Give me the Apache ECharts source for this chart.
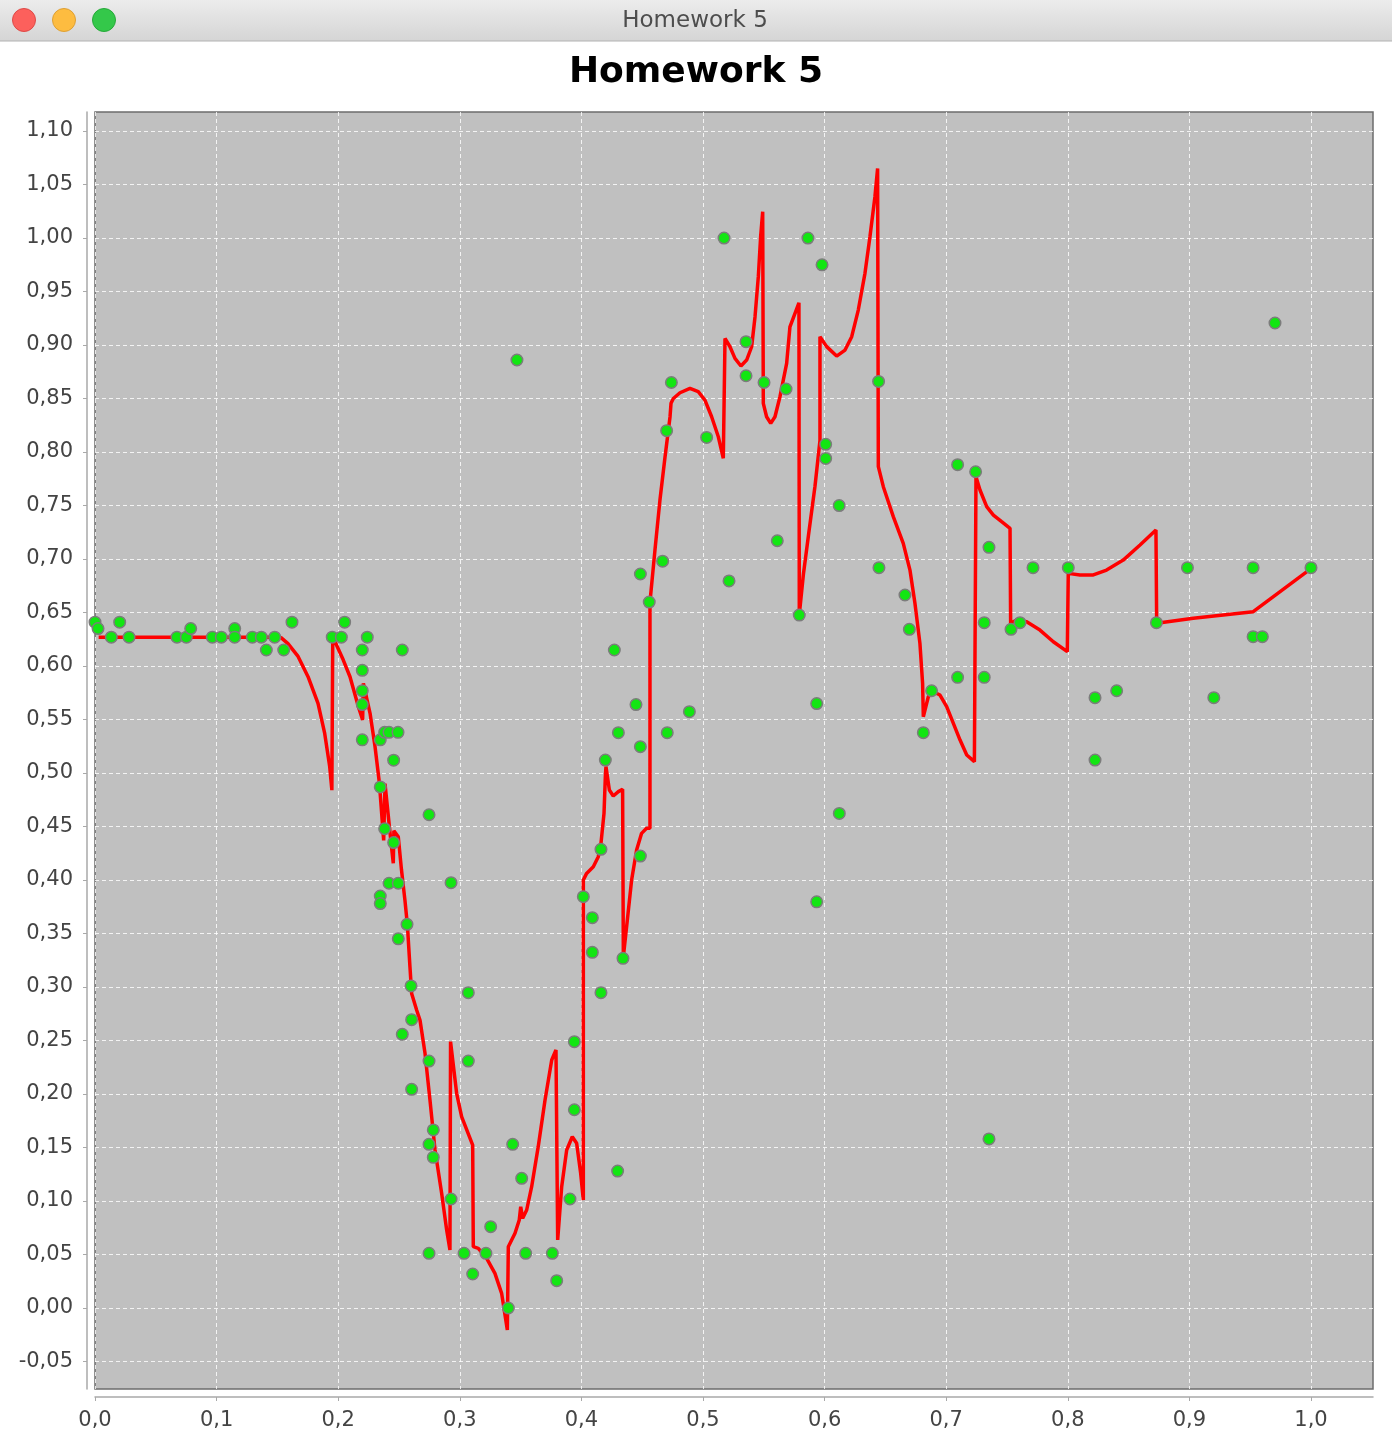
<!DOCTYPE html>
<html><head><meta charset="utf-8">
<script src="https://cdn.jsdelivr.net/npm/echarts@6/dist/echarts.min.js"></script>
<style>html,body{margin:0;padding:0;background:#fff}#c{width:1392px;height:1436px}</style>
</head><body><div id="c"></div>
<script>
const windowTitle = 'Homework 5';
const chartTitle = 'Homework 5';
const xTicks = [0, 0.1, 0.2, 0.3, 0.4, 0.5, 0.6, 0.7, 0.8, 0.9, 1.0];
const yTicks = [-0.05, 0, 0.05, 0.1, 0.15, 0.2, 0.25, 0.3, 0.35, 0.4, 0.45, 0.5, 0.55, 0.6, 0.65, 0.7, 0.75, 0.8, 0.85, 0.9, 0.95, 1.0, 1.05, 1.1];

const pointsX = [0.000,0.0025,0.0134,0.0203,0.028,0.0674,0.0751,0.0787,0.0965,0.1039,0.1149,0.1149,0.1294,0.1368,0.1409,0.1478,0.1552,0.162,0.1951,0.2026,0.2053,0.2198,0.2239,0.2198,0.2198,0.2198,0.2198,0.2527,0.2346,0.2382,0.2418,0.2492,0.2456,0.2346,0.2747,0.2382,0.2456,0.2418,0.2494,0.2346,0.2346,0.2566,0.2494,0.2599,0.2604,0.2928,0.2527,0.2747,0.307,0.2604,0.2782,0.2747,0.2782,0.2928,0.2747,0.3035,0.3215,0.3106,0.3254,0.3399,0.3435,0.3509,0.3542,0.3761,0.3797,0.3906,0.3942,0.3942,0.4298,0.307,0.347,0.4271,0.4449,0.4888,0.4304,0.4706,0.4485,0.4197,0.4161,0.4485,0.4016,0.409,0.409,0.4342,0.4161,0.4558,0.5173,0.5354,0.5354,0.5502,0.5683,0.474,0.4701,0.503,0.5611,0.4668,0.4485,0.5214,0.5863,0.5979,0.6009,0.6009,0.5792,0.5935,0.5935,0.612,0.6121,0.6444,0.6447,0.6661,0.6697,0.6812,0.688,0.7094,0.7242,0.7352,0.7094,0.7313,0.7313,0.7533,0.7607,0.7714,0.8004,0.8224,0.8402,0.8224,0.8729,0.8984,0.9201,0.9524,0.9524,0.96,1.0,0.9704,0.7352];
const pointsY = [0.641,0.635,0.627,0.641,0.627,0.627,0.627,0.635,0.627,0.627,0.635,0.627,0.627,0.627,0.615,0.627,0.615,0.641,0.627,0.627,0.641,0.615,0.627,0.596,0.577,0.564,0.531,0.615,0.531,0.538,0.538,0.538,0.512,0.487,0.461,0.448,0.435,0.397,0.397,0.385,0.378,0.3586,0.345,0.301,0.2695,0.3975,0.2558,0.2308,0.2308,0.2044,0.1664,0.153,0.1408,0.1019,0.0511,0.0511,0.0511,0.0318,0.076,0.0,0.153,0.1212,0.0511,0.0511,0.0255,0.1019,0.1853,0.2489,0.128,0.2947,0.886,0.615,0.564,0.5573,0.5377,0.5377,0.5246,0.5121,0.4287,0.4224,0.3844,0.3648,0.3324,0.3268,0.2947,0.6598,1.0,0.9031,0.8713,0.865,0.8589,0.865,0.82,0.8137,0.7171,0.698,0.686,0.6795,1.0,0.975,0.8072,0.794,0.6476,0.5649,0.3796,0.75,0.4622,0.866,0.6919,0.6664,0.6343,0.5377,0.5769,0.7882,0.7816,0.7109,0.5894,0.5894,0.6405,0.6343,0.6405,0.6919,0.6919,0.5704,0.5769,0.5121,0.6405,0.6919,0.5704,0.6919,0.6274,0.6274,0.6919,0.9206,0.158];

const curveX = [0.003,0.148,0.153,0.1587,0.167,0.1752,0.1834,0.1889,0.193,0.1948,0.1955,0.1974,0.2042,0.2097,0.2166,0.2201,0.2207,0.2262,0.2303,0.2339,0.2374,0.2385,0.2430,0.2453,0.2458,0.2494,0.2520,0.2549,0.2569,0.259,0.2604,0.2645,0.2673,0.2714,0.2755,0.2796,0.2851,0.2892,0.2919,0.2924,0.2974,0.3015,0.3106,0.3111,0.3152,0.3221,0.3289,0.3344,0.3391,0.3399,0.3454,0.3489,0.3501,0.3517,0.355,0.3591,0.3645,0.3701,0.3756,0.3791,0.3805,0.3838,0.3879,0.3925,0.3961,0.3994,0.4016,0.4016,0.4043,0.4098,0.4139,0.4161,0.4186,0.4197,0.4202,0.423,0.4262,0.4304,0.4339,0.4345,0.4372,0.4413,0.4454,0.4495,0.4536,0.4564,0.4564,0.4605,0.4646,0.4688,0.4729,0.4737,0.4756,0.4811,0.4893,0.4961,0.5016,0.5071,0.5126,0.5167,0.5181,0.5222,0.5263,0.5312,0.5359,0.5400,0.5428,0.5455,0.5474,0.5491,0.5496,0.5523,0.5557,0.5592,0.5633,0.5688,0.5715,0.5789,0.5792,0.5826,0.5867,0.5921,0.5962,0.5962,0.6017,0.6099,0.6168,0.6223,0.6277,0.6332,0.6373,0.6414,0.6436,0.6442,0.6483,0.6565,0.6647,0.6702,0.6743,0.6784,0.6806,0.6812,0.6853,0.6894,0.6949,0.7004,0.7059,0.7114,0.7169,0.7232,0.7245,0.7278,0.7333,0.7388,0.7456,0.7525,0.753,0.7579,0.7662,0.7771,0.7881,0.7996,0.8004,0.81,0.821,0.8319,0.8456,0.8594,0.8725,0.8731,0.9032,0.9525,1.0];
const curveY = [0.627,0.627,0.6265,0.621,0.609,0.590,0.565,0.537,0.506,0.484,0.623,0.6227,0.6056,0.590,0.562,0.5496,0.5838,0.5558,0.5246,0.4904,0.437,0.490,0.440,0.4156,0.446,0.4405,0.410,0.381,0.358,0.319,0.294,0.2785,0.269,0.238,0.194,0.148,0.107,0.0729,0.0542,0.249,0.2007,0.1788,0.1523,0.0573,0.0558,0.0464,0.0324,0.0137,-0.0206,0.0573,0.0698,0.0822,0.0947,0.0838,0.0916,0.1134,0.1508,0.1944,0.2318,0.2411,0.0636,0.1134,0.1477,0.1601,0.1539,0.1259,0.1009,0.400,0.4062,0.4124,0.4218,0.4343,0.4623,0.4966,0.506,0.4841,0.4785,0.4826,0.4848,0.3283,0.3564,0.400,0.428,0.4436,0.4483,0.4483,0.6598,0.7084,0.7551,0.7956,0.833,0.8455,0.85,0.8554,0.8595,0.8564,0.8486,0.833,0.8143,0.7941,0.9062,0.8984,0.8875,0.8804,0.886,0.8984,0.9265,0.9639,1.0012,1.0246,0.8455,0.833,0.8268,0.833,0.8517,0.8829,0.917,0.9395,0.648,0.686,0.7217,0.768,0.8108,0.9078,0.8985,0.8897,0.8953,0.9078,0.9327,0.967,1.0012,1.0386,1.0651,0.7863,0.7676,0.7396,0.7147,0.6897,0.6586,0.6212,0.5838,0.5526,0.5713,0.576,0.5729,0.562,0.5464,0.5308,0.5168,0.5106,0.777,0.7645,0.7489,0.7411,0.7349,0.7287,0.6399,0.643,0.6414,0.6336,0.6227,0.6134,0.6866,0.6851,0.6851,0.6897,0.699,0.7131,0.7271,0.6399,0.6446,0.6508,0.691];

const chart = echarts.init(document.getElementById('c'), null, {renderer: 'canvas'});
const fmt = (d) => (v) => Number(v).toFixed(d).replace('.', ',');
const gridLine = {show: true, lineStyle: {color: 'rgba(255,255,255,0.8)', width: 1, type: [4, 3]}};
const axisCol = '#a9a9a9';
chart.setOption({
  animation: false,
  backgroundColor: '#ffffff',
  title: {text: chartTitle, left: 'center', top: 50, textStyle: {fontFamily: 'DejaVu Sans', fontWeight: 'bold', fontSize: 36, color: '#000'}},
  graphic: [
    {type: 'rect', shape: {x: 0, y: 0, width: 1392, height: 41}, style: {fill: new echarts.graphic.LinearGradient(0, 0, 0, 1, [{offset: 0, color: '#ececec'}, {offset: 1, color: '#d5d5d5'}])}, z: 10},
    {type: 'line', shape: {x1: 0, y1: 41, x2: 1392, y2: 41}, style: {stroke: '#b2b2b2', lineWidth: 1}, z: 10},
    {type: 'circle', shape: {cx: 24, cy: 20, r: 11.5}, style: {fill: '#fc605c', stroke: '#de4a47', lineWidth: 1}, z: 11},
    {type: 'circle', shape: {cx: 64, cy: 20, r: 11.5}, style: {fill: '#fdbc40', stroke: '#dea034', lineWidth: 1}, z: 11},
    {type: 'circle', shape: {cx: 104, cy: 20, r: 11.5}, style: {fill: '#34c84a', stroke: '#27a93a', lineWidth: 1}, z: 11},
    {type: 'text', x: 695, y: 21, style: {text: windowTitle, fontFamily: 'DejaVu Sans', fontSize: 23, fill: '#4d4d4d', align: 'center', verticalAlign: 'middle'}, z: 11}
  ],
  grid: {left: 95, right: 19, top: 112, bottom: 47, show: true, backgroundColor: '#c0c0c0', borderColor: '#6c6c6c', borderWidth: 1.5, containLabel: false},
  xAxis: {
    type: 'value', min: 0, max: 1.051, offset: 8,
    axisLine: {show: true, onZero: false, lineStyle: {color: axisCol, width: 1.5}},
    axisTick: {show: true, length: 4, inside: false, lineStyle: {color: axisCol}, customValues: xTicks},
    axisLabel: {customValues: xTicks, formatter: fmt(1), fontFamily: 'DejaVu Sans', fontSize: 21, color: '#444', margin: 13},
    splitLine: gridLine
  },
  yAxis: {
    type: 'value', min: -0.0757, max: 1.1178, offset: 8,
    axisLine: {show: true, onZero: false, lineStyle: {color: axisCol, width: 1.5}},
    axisTick: {show: true, length: 4, inside: false, lineStyle: {color: axisCol}, customValues: yTicks},
    axisLabel: {customValues: yTicks, formatter: fmt(2), fontFamily: 'DejaVu Sans', fontSize: 21, color: '#444', margin: 14},
    splitLine: gridLine
  },
  series: [
    {type: 'line', data: curveX.map((x, i) => [x, curveY[i]]), showSymbol: false, symbol: 'none', lineStyle: {color: '#ff0000', width: 3.5}, clip: true, z: 2},
    {type: 'scatter', data: pointsX.map((x, i) => [x, pointsY[i]]), symbolSize: 11.5, itemStyle: {color: '#12e612', borderColor: '#7c7c7c', borderWidth: 1.5, opacity: 1}, clip: true, z: 3}
  ]
});
</script></body></html>
